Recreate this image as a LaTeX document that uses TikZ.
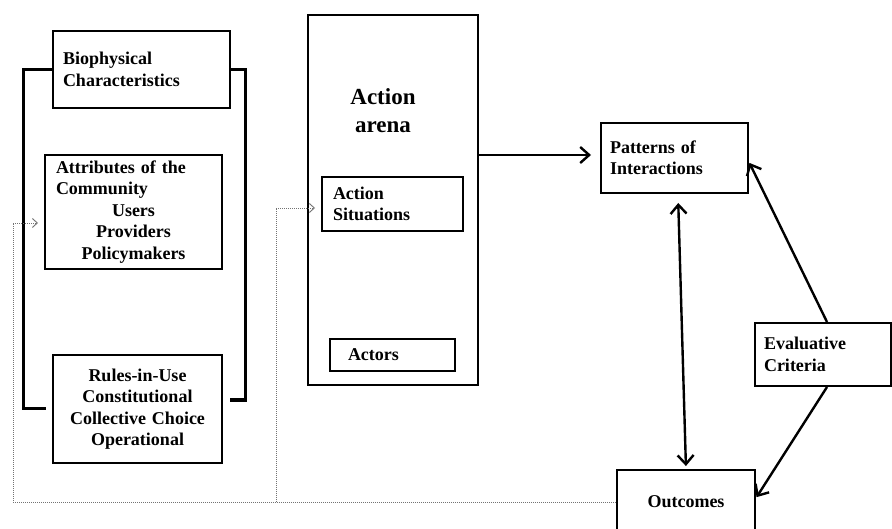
\documentclass[tikz,border=0pt]{standalone}
\usepackage{fontspec}
\setmainfont{Liberation Serif}
\usetikzlibrary{arrows.meta}
\begin{document}
\begin{tikzpicture}[x=1pt,y=-1pt,
  box/.style={draw=black, line width=2pt, inner sep=0pt, font=\bfseries\fontsize{18}{21.5}\selectfont},
  arr/.style={line width=2.4pt, -{Straight Barb[length=9pt,width=16pt,line width=2.4pt]}},
  darr/.style={line width=2.4pt, {Straight Barb[length=9pt,width=16pt,line width=2.4pt]}-{Straight Barb[length=9pt,width=16pt,line width=2.4pt]}},
  bracket/.style={line width=3pt},
  dotarr/.style={draw=black!55, line width=0.9pt, dash pattern=on 1pt off 1pt, -{Straight Barb[length=5pt,width=9pt,line width=0.9pt]}},
  dotline/.style={draw=black!55, line width=0.9pt, dash pattern=on 1pt off 1pt}]
\useasboundingbox (0,0) rectangle (892,529);
\clip (0,0) rectangle (892,529);
\fill[white] (0,0) rectangle (892,529);

% left column
\node[box, minimum width=177pt, minimum height=77pt, text width=157pt, align=left] (bio) at (141.5,69.5) {Biophysical\\Characteristics};
\node[box, minimum width=177pt, minimum height=114pt, text width=155pt, align=left] (attr) at (133.5,212) {Attributes of the\\Community\\\makebox[\linewidth]{Users}\\\makebox[\linewidth]{Providers}\\\makebox[\linewidth]{Policymakers}};
\node[box, minimum width=169pt, minimum height=108pt, text width=165pt, align=center] (rules) at (137.5,409) {Rules-in-Use\\Constitutional\\Collective Choice\\Operational};

% brackets
\coordinate (bl1) at (23,70);
\coordinate (bl2) at (23,408);
\coordinate (br1) at (245,70);
\coordinate (br2) at (245,400);
\draw[bracket] (bio.west |- bl1) -- (bl1) -- (bl2) -- ([xshift=23pt]bl2);
\draw[bracket] (bio.east |- br1) -- (br1) -- (br2) -- ([xshift=-15pt]br2);

% action arena
\node[box, minimum width=170pt, minimum height=370pt] (arena) at (393,200) {};
\node[font=\bfseries\fontsize{23}{28}\selectfont, align=center, inner sep=0pt] (arenalabel) at (383,111) {Action\\arena};
\node[box, minimum width=141pt, minimum height=54pt, text width=119pt, align=left] (sit) at (392.5,204) {Action\\Situations};
\node[box, minimum width=125pt, minimum height=32pt, text width=89pt, align=left] (act) at (392.5,355) {Actors};

% right side
\node[box, minimum width=147pt, minimum height=70pt, text width=129pt, align=left] (pat) at (674.5,158) {Patterns of\\Interactions};
\node[box, minimum width=136pt, minimum height=63pt, text width=118pt, align=left] (eval) at (823,354.5) {Evaluative\\Criteria};
\node[box, minimum width=138pt, minimum height=64pt] (out) at (686,502) {Outcomes};

% arrows
\draw[arr, shorten >=9pt] (arena.east |- 0,155) -- (pat.west |- 0,155);
\draw[darr, shorten <=9pt, shorten >=3pt] ([xshift=3.5pt]pat.south) -- (out.north);
\draw[arr, shorten >=1pt] ([xshift=4pt]eval.north) -- ([yshift=-4pt]pat.east);
\draw[arr, shorten >=1pt] ([xshift=4pt]eval.south) -- ([yshift=4pt]out.east);

% dotted feedback lines
\coordinate (d1) at (38,223);
\coordinate (d2) at (315,208);
\draw[dotarr] (out.west) -| ([xshift=-25pt]d1) -- (d1);
\draw[dotarr] ([xshift=-39pt]d2 |- out.west) -- ([xshift=-39pt]d2) -- (d2);
\end{tikzpicture}
\end{document}
